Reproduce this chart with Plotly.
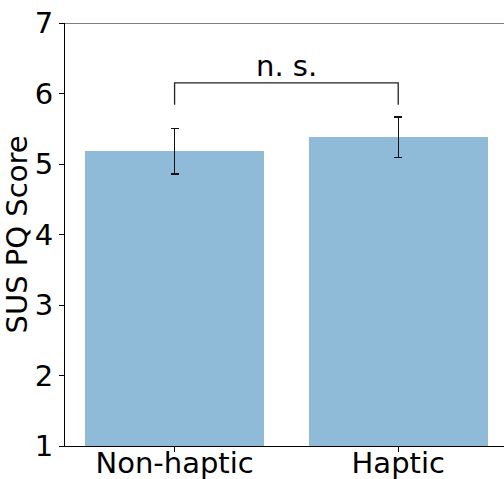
import plotly.graph_objects as go

# SUS presence questionnaire scores per condition
conditions = ["Non-haptic", "Haptic"]
mean_scores = [5.18, 5.38]
score_errors = [0.32, 0.285]

# significance bracket between the two conditions
bracket_low = 5.84
bracket_high = 6.15
bracket_label = "n. s."

y_ticks = [1, 2, 3, 4, 5, 6, 7]

FONT = "DejaVu Sans"
FS = 29
x_pos = list(range(len(conditions)))

fig = go.Figure()
fig.add_trace(go.Bar(
    x=x_pos,
    y=mean_scores,
    width=0.8,
    marker=dict(color="rgba(31,119,180,0.5)", line=dict(width=0)),
    error_y=dict(type="data", array=score_errors, visible=True,
                 color="#111111", thickness=1.3, width=4),
    showlegend=False,
))

fig.add_trace(go.Scatter(
    x=[x_pos[0], x_pos[0], x_pos[1], x_pos[1]],
    y=[bracket_low, bracket_high, bracket_high, bracket_low],
    mode="lines",
    line=dict(color="#222222", width=1.3),
    showlegend=False,
    hoverinfo="skip",
))

fig.add_annotation(
    x=(x_pos[0] + x_pos[1]) / 2, y=bracket_high,
    text=bracket_label, showarrow=False,
    xanchor="center", yanchor="bottom", yshift=-2,
    font=dict(family=FONT, size=FS, color="black"),
)

# top frame line
fig.add_shape(type="line", xref="paper", x0=0, x1=1, yref="y", y0=7, y1=7,
              line=dict(color="black", width=1))

fig.update_layout(
    width=504, height=479,
    margin=dict(l=65, r=0, t=23, b=33),
    plot_bgcolor="white", paper_bgcolor="white",
    font=dict(family=FONT, size=FS, color="black"),
    bargap=0,
)
fig.update_xaxes(
    range=[-0.49, 1.473], automargin=False,
    tickmode="array", tickvals=x_pos, ticktext=conditions,
    showline=True, linecolor="black", linewidth=1,
    ticks="outside", ticklen=5, tickcolor="black",
    ticklabelstandoff=-14,
    showgrid=False, zeroline=False,
    tickfont=dict(family=FONT, size=FS),
)
fig.update_yaxes(
    range=[1, 7], automargin=False,
    tickmode="array", tickvals=y_ticks,
    showline=True, linecolor="black", linewidth=1,
    ticks="outside", ticklen=5, tickcolor="black",
    showgrid=False, zeroline=False,
    tickfont=dict(family=FONT, size=FS),
    title=dict(text="SUS PQ Score", font=dict(family=FONT, size=FS), standoff=5),
)

fig.write_html("out.html")
